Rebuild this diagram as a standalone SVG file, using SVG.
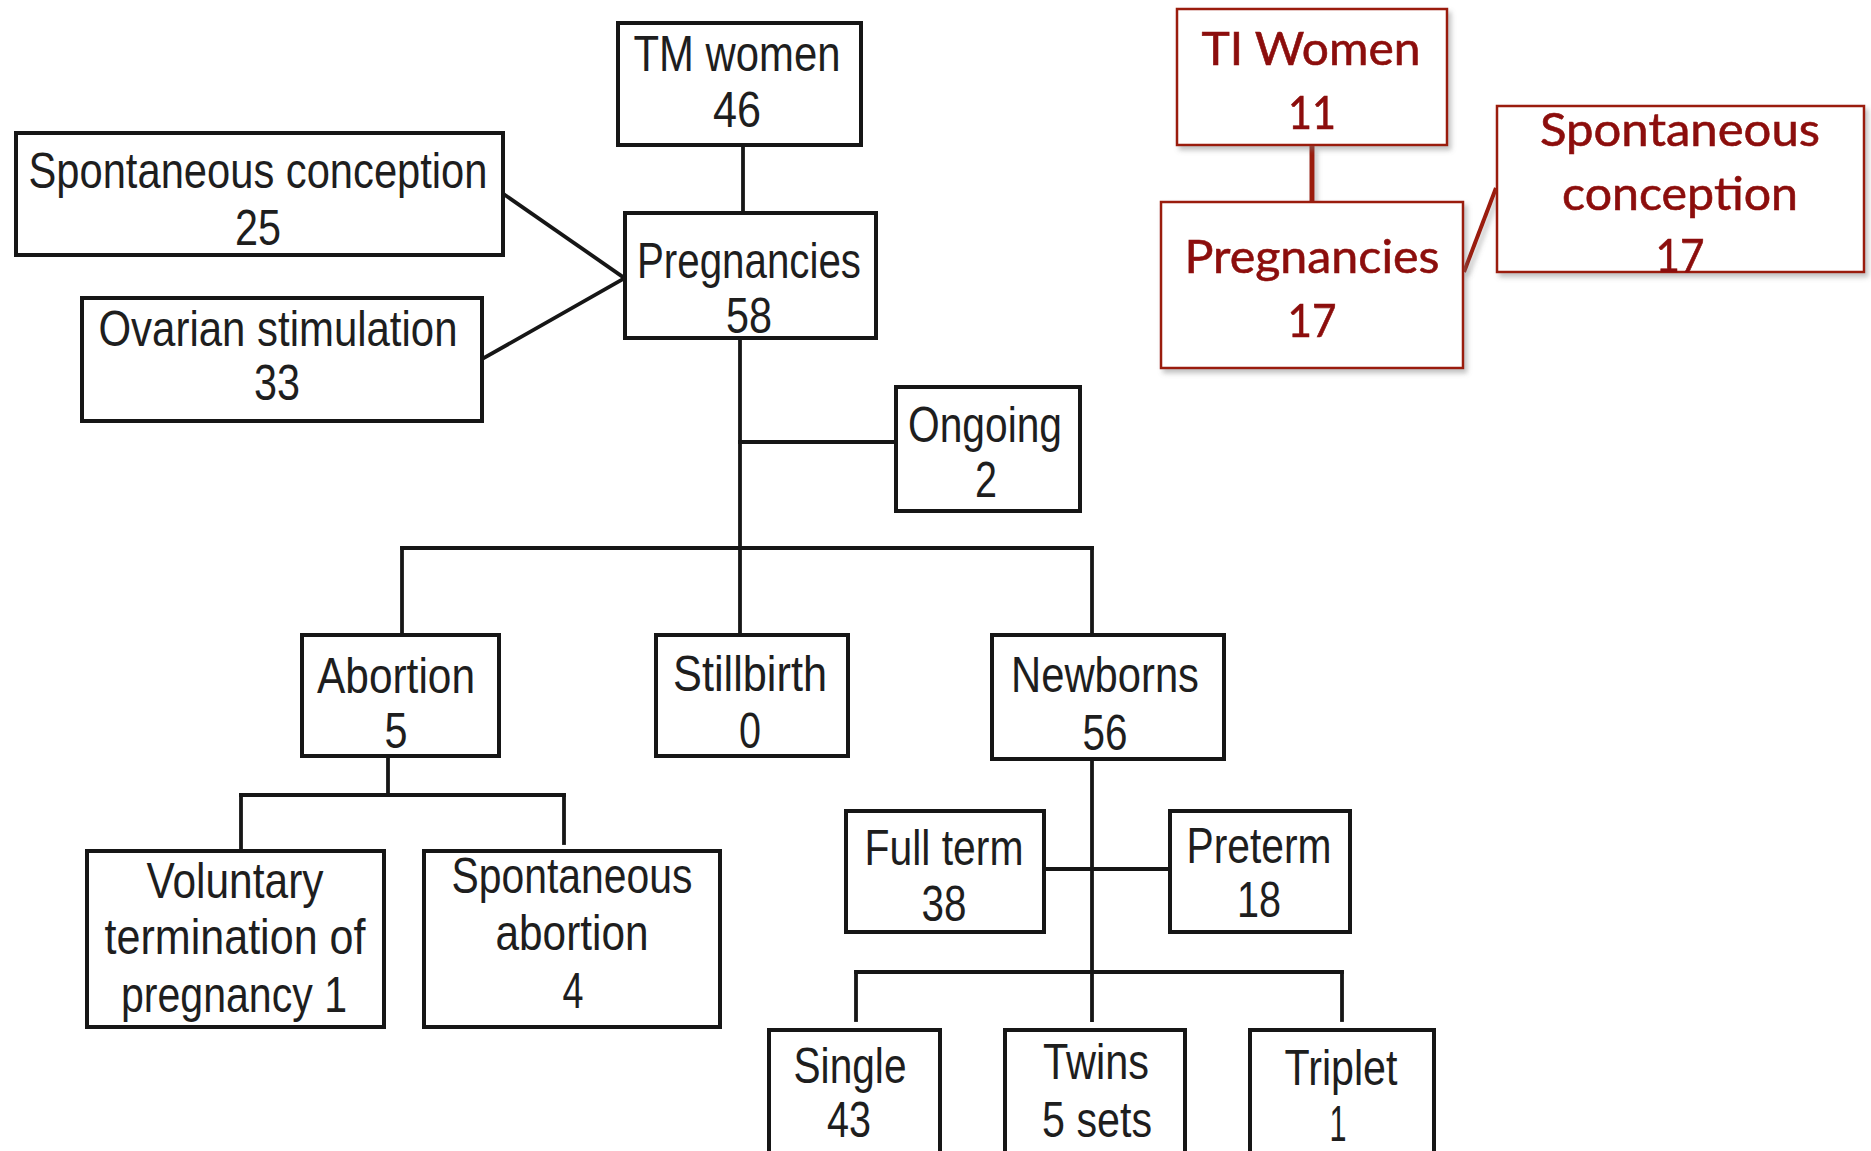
<svg xmlns="http://www.w3.org/2000/svg" width="1871" height="1151" viewBox="0 0 1871 1151">
<defs>
<style>
.box{fill:#fff;stroke:#161616;stroke-width:4}
.ln{stroke:#161616;stroke-width:3.8;fill:none;stroke-linecap:square}
.t{font-family:"Liberation Sans",Arial,sans-serif;font-size:50px;fill:#1e1e1e;text-anchor:middle}
.rbox{fill:#fff;stroke:#9a1a0c;stroke-width:2.5}
.rln{stroke:#9a1a0c;fill:none}
.rt{font-family:Lato,"Open Sans",sans-serif;font-size:46px;fill:#8c0f0a;text-anchor:middle;stroke:#8c0f0a;stroke-width:0.6}
</style>
<filter id="sh" x="-10%" y="-10%" width="130%" height="130%">
<feDropShadow dx="3" dy="4" stdDeviation="2.5" flood-color="#777" flood-opacity="0.45"/>
</filter>
</defs>
<rect width="1871" height="1151" fill="#fff"/>

<g id="connectors">
<line class="ln" x1="743" y1="147" x2="743" y2="213"/>
<line class="ln" x1="505" y1="195" x2="623" y2="277"/>
<line class="ln" x1="484" y1="358" x2="623" y2="279"/>
<line class="ln" x1="740" y1="340" x2="740" y2="633"/>
<line class="ln" x1="740" y1="442" x2="894" y2="442"/>
<line class="ln" x1="402" y1="548" x2="1092" y2="548"/>
<line class="ln" x1="402" y1="548" x2="402" y2="633"/>
<line class="ln" x1="1092" y1="548" x2="1092" y2="633"/>
<line class="ln" x1="388" y1="758" x2="388" y2="795"/>
<line class="ln" x1="241" y1="795" x2="564" y2="795"/>
<line class="ln" x1="241" y1="795" x2="241" y2="849"/>
<line class="ln" x1="564" y1="795" x2="564" y2="843"/>
<line class="ln" x1="1092" y1="761" x2="1092" y2="1020"/>
<line class="ln" x1="1046" y1="869" x2="1168" y2="869"/>
<line class="ln" x1="856" y1="972" x2="1342" y2="972"/>
<line class="ln" x1="856" y1="972" x2="856" y2="1020"/>
<line class="ln" x1="1342" y1="972" x2="1342" y2="1020"/>
<g filter="url(#sh)">
<line class="rln" stroke-width="5" x1="1312" y1="146" x2="1312" y2="201"/>
<line class="rln" stroke-width="4" x1="1464" y1="272" x2="1496" y2="188"/>
</g>
</g>

<g id="tm-women"><rect class="box" x="618" y="23" width="243" height="122"/>
<text class="t" x="737" y="71" textLength="207" lengthAdjust="spacingAndGlyphs">TM women</text>
<text class="t" x="737" y="127" textLength="48" lengthAdjust="spacingAndGlyphs">46</text></g>

<g id="spont-conception"><rect class="box" x="16" y="133" width="487" height="122"/>
<text class="t" x="258" y="188" textLength="459" lengthAdjust="spacingAndGlyphs">Spontaneous conception</text>
<text class="t" x="258" y="245" textLength="46" lengthAdjust="spacingAndGlyphs">25</text></g>

<g id="pregnancies"><rect class="box" x="625" y="213" width="251" height="125"/>
<text class="t" x="749" y="278" textLength="224" lengthAdjust="spacingAndGlyphs">Pregnancies</text>
<text class="t" x="749" y="333" textLength="46" lengthAdjust="spacingAndGlyphs">58</text></g>

<g id="ovarian"><rect class="box" x="82" y="298" width="400" height="123"/>
<text class="t" x="278" y="346" textLength="359" lengthAdjust="spacingAndGlyphs">Ovarian stimulation</text>
<text class="t" x="277" y="400" textLength="46" lengthAdjust="spacingAndGlyphs">33</text></g>

<g id="ongoing"><rect class="box" x="896" y="387" width="184" height="124"/>
<text class="t" x="985" y="442" textLength="154" lengthAdjust="spacingAndGlyphs">Ongoing</text>
<text class="t" x="986" y="497" textLength="22" lengthAdjust="spacingAndGlyphs">2</text></g>

<g id="abortion"><rect class="box" x="302" y="635" width="197" height="121"/>
<text class="t" x="396" y="693" textLength="158" lengthAdjust="spacingAndGlyphs">Abortion</text>
<text class="t" x="396" y="748" textLength="23" lengthAdjust="spacingAndGlyphs">5</text></g>

<g id="stillbirth"><rect class="box" x="656" y="635" width="192" height="121"/>
<text class="t" x="750" y="691" textLength="154" lengthAdjust="spacingAndGlyphs">Stillbirth</text>
<text class="t" x="750" y="748" textLength="22" lengthAdjust="spacingAndGlyphs">0</text></g>

<g id="newborns"><rect class="box" x="992" y="635" width="232" height="124"/>
<text class="t" x="1105" y="692" textLength="188" lengthAdjust="spacingAndGlyphs">Newborns</text>
<text class="t" x="1105" y="750" textLength="45" lengthAdjust="spacingAndGlyphs">56</text></g>

<g id="voluntary"><rect class="box" x="87" y="851" width="297" height="176"/>
<text class="t" x="235" y="898" textLength="177" lengthAdjust="spacingAndGlyphs">Voluntary</text>
<text class="t" x="235" y="954" textLength="261" lengthAdjust="spacingAndGlyphs">termination of</text>
<text class="t" x="234" y="1012" textLength="226" lengthAdjust="spacingAndGlyphs">pregnancy 1</text></g>

<g id="spont-abortion"><rect class="box" x="424" y="851" width="296" height="176"/>
<text class="t" x="572" y="893" textLength="241" lengthAdjust="spacingAndGlyphs">Spontaneous</text>
<text class="t" x="572" y="950" textLength="153" lengthAdjust="spacingAndGlyphs">abortion</text>
<text class="t" x="573" y="1008" textLength="21" lengthAdjust="spacingAndGlyphs">4</text></g>

<g id="full-term"><rect class="box" x="846" y="811" width="198" height="121"/>
<text class="t" x="944" y="865" textLength="159" lengthAdjust="spacingAndGlyphs">Full term</text>
<text class="t" x="944" y="921" textLength="45" lengthAdjust="spacingAndGlyphs">38</text></g>

<g id="preterm"><rect class="box" x="1170" y="811" width="180" height="121"/>
<text class="t" x="1259" y="863" textLength="145" lengthAdjust="spacingAndGlyphs">Preterm</text>
<text class="t" x="1259" y="917" textLength="44" lengthAdjust="spacingAndGlyphs">18</text></g>

<g id="single"><rect class="box" x="769" y="1030" width="171" height="140"/>
<text class="t" x="850" y="1083" textLength="113" lengthAdjust="spacingAndGlyphs">Single</text>
<text class="t" x="849" y="1137" textLength="44" lengthAdjust="spacingAndGlyphs">43</text></g>

<g id="twins"><rect class="box" x="1005" y="1030" width="180" height="140"/>
<text class="t" x="1096" y="1079" textLength="106" lengthAdjust="spacingAndGlyphs">Twins</text>
<text class="t" x="1097" y="1137" textLength="110" lengthAdjust="spacingAndGlyphs">5 sets</text></g>

<g id="triplet"><rect class="box" x="1250" y="1030" width="184" height="140"/>
<text class="t" x="1341" y="1085" textLength="113" lengthAdjust="spacingAndGlyphs">Triplet</text>
<text class="t" x="1338" y="1141" textLength="17" lengthAdjust="spacingAndGlyphs">1</text></g>

<g id="ti-women" filter="url(#sh)"><rect class="rbox" x="1177" y="9" width="270" height="136"/>
<text class="rt" x="1311" y="65" textLength="219" lengthAdjust="spacingAndGlyphs">TI Women</text>
<text class="rt" x="1312" y="129" textLength="48" lengthAdjust="spacingAndGlyphs">11</text></g>

<g id="ti-pregnancies" filter="url(#sh)"><rect class="rbox" x="1161" y="202" width="302" height="166"/>
<text class="rt" x="1312" y="273" textLength="255" lengthAdjust="spacingAndGlyphs">Pregnancies</text>
<text class="rt" x="1312" y="337" textLength="49" lengthAdjust="spacingAndGlyphs">17</text></g>

<g id="ti-spont-conception" filter="url(#sh)"><rect class="rbox" x="1497" y="106" width="367" height="166"/>
<text class="rt" x="1680" y="146" textLength="280" lengthAdjust="spacingAndGlyphs">Spontaneous</text>
<text class="rt" x="1680" y="210" textLength="236" lengthAdjust="spacingAndGlyphs">conception</text>
<text class="rt" x="1680" y="272" textLength="49" lengthAdjust="spacingAndGlyphs">17</text></g>
</svg>
